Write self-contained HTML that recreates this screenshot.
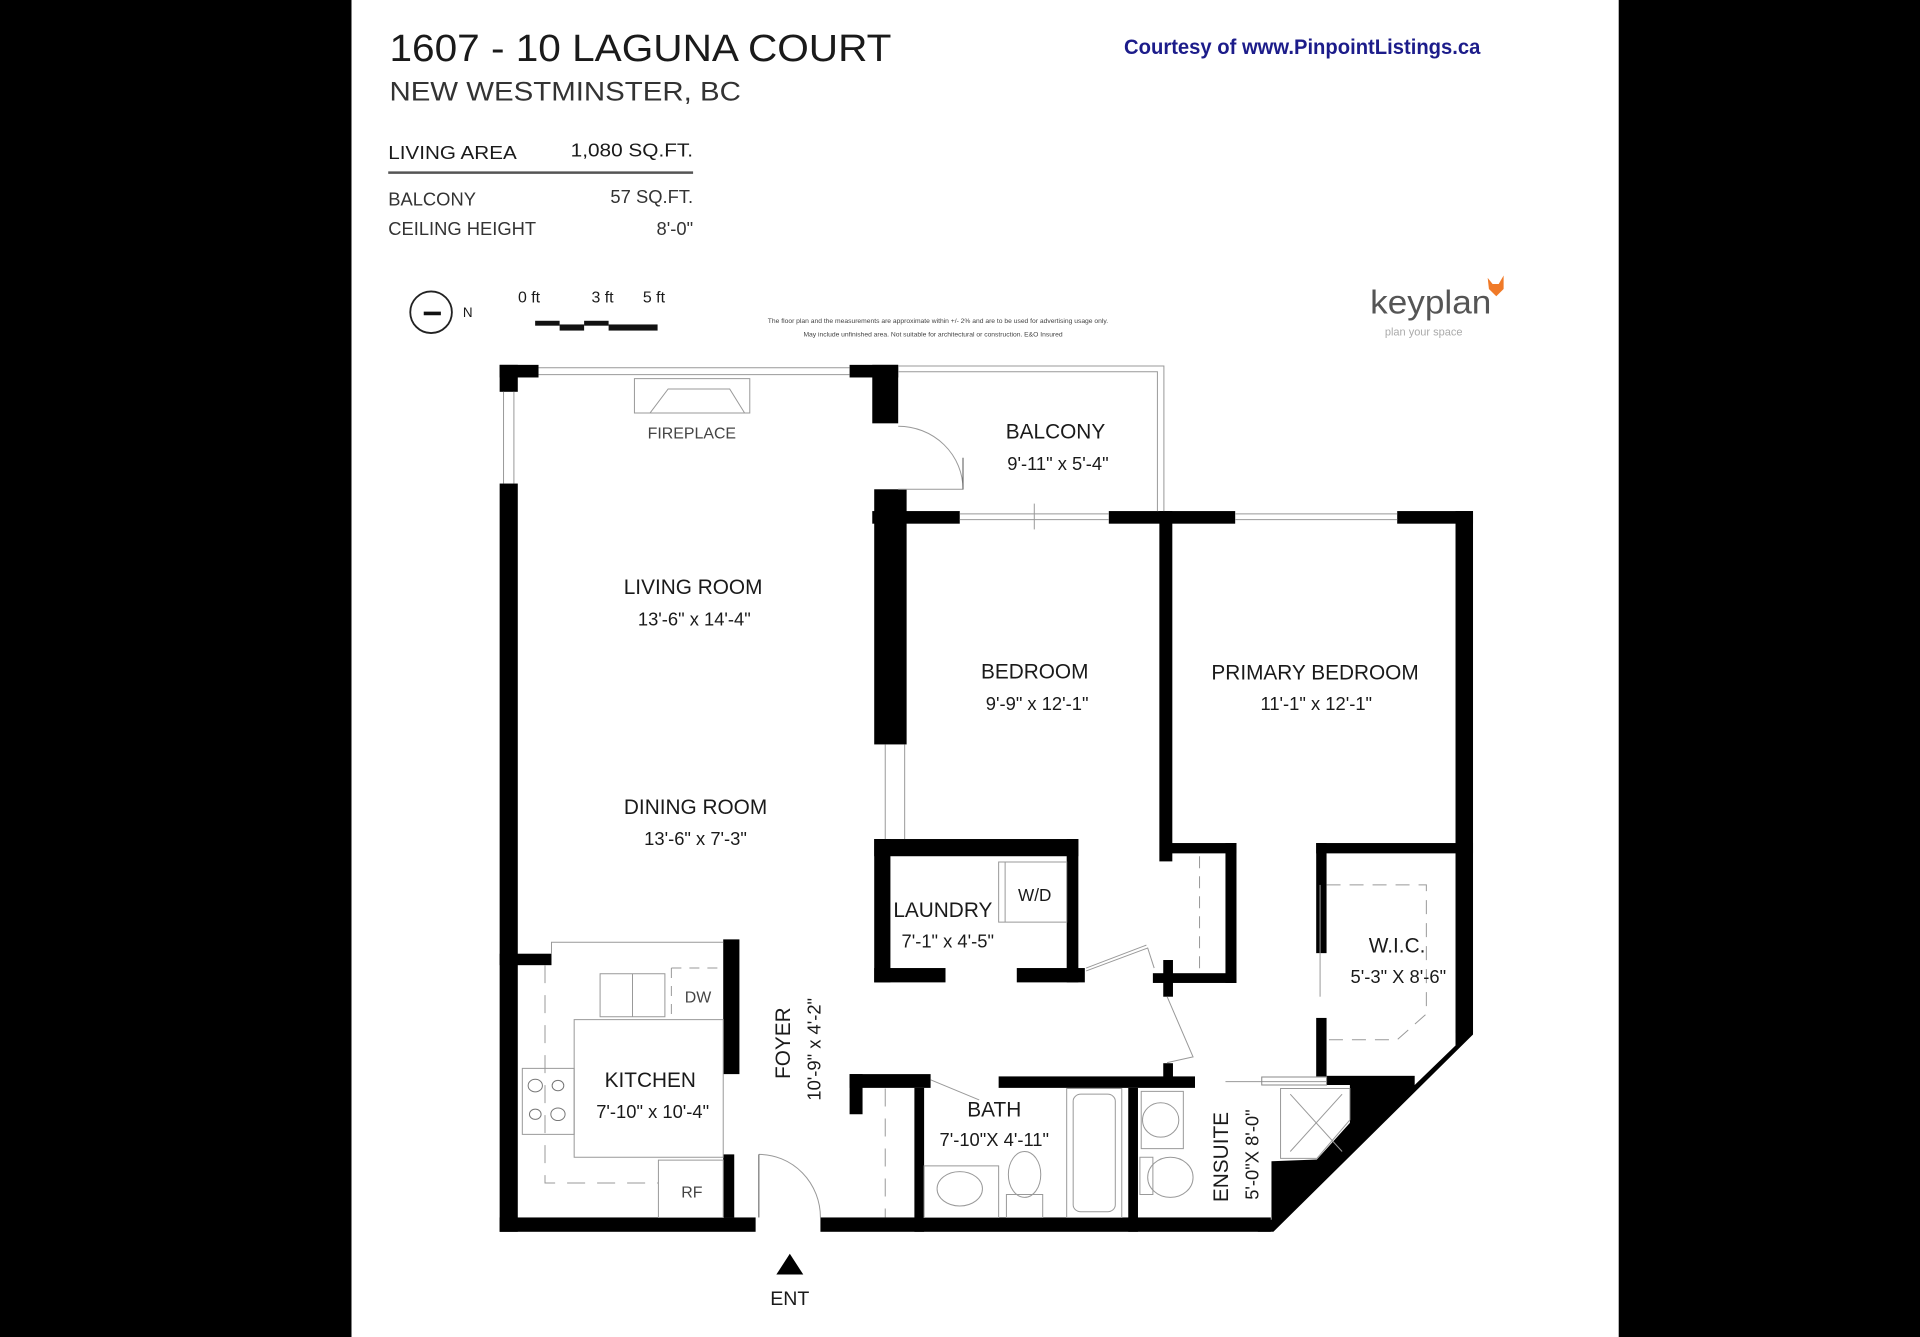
<!DOCTYPE html>
<html><head><meta charset="utf-8"><style>
html,body{margin:0;padding:0;background:#000;}
svg{display:block;}
text{font-family:"Liberation Sans",sans-serif;fill:#1a1a1a;}
</style></head><body>
<svg width="1920" height="1337" viewBox="0 0 1568 1092" xmlns="http://www.w3.org/2000/svg">
<rect x="0" y="0" width="1568" height="1092" fill="#000"/>
<rect x="287" y="0" width="1035" height="1092" fill="#fff"/>

<!-- header -->
<text x="318" y="50" font-size="31" textLength="410" lengthAdjust="spacingAndGlyphs">1607 - 10 LAGUNA COURT</text>
<text x="318" y="82" font-size="22" fill="#333" style="fill:#333" textLength="287" lengthAdjust="spacingAndGlyphs">NEW WESTMINSTER, BC</text>
<text x="918" y="44" font-size="17" font-weight="bold" style="fill:#1c1c8a" textLength="291" lengthAdjust="spacingAndGlyphs">Courtesy of www.PinpointListings.ca</text>

<text x="317" y="130" font-size="15" textLength="105" lengthAdjust="spacingAndGlyphs">LIVING AREA</text>
<text x="566" y="128" font-size="15" text-anchor="end" textLength="100" lengthAdjust="spacingAndGlyphs">1,080 SQ.FT.</text>
<line x1="317" y1="141" x2="566" y2="141" stroke="#555" stroke-width="2"/>
<text x="317" y="168" font-size="15" style="fill:#333">BALCONY</text>
<text x="566" y="166" font-size="15" text-anchor="end" style="fill:#333">57 SQ.FT.</text>
<text x="317" y="192" font-size="15" style="fill:#333">CEILING HEIGHT</text>
<text x="566" y="192" font-size="15" text-anchor="end" style="fill:#333">8'-0"</text>

<!-- compass & scale -->
<circle cx="352" cy="255" r="17" fill="none" stroke="#222" stroke-width="1.5"/>
<line x1="346" y1="256" x2="360" y2="256" stroke="#111" stroke-width="3"/>
<text x="378" y="259" font-size="11">N</text>
<text x="423" y="247" font-size="13">0 ft</text>
<text x="483" y="247" font-size="13">3 ft</text>
<text x="525" y="247" font-size="13">5 ft</text>
<rect x="437" y="262" width="20" height="4" fill="#111"/>
<rect x="457" y="265" width="20" height="5" fill="#111"/>
<rect x="477" y="262" width="20" height="4" fill="#111"/>
<rect x="497" y="265" width="40" height="5" fill="#111"/>
<text x="766" y="264" font-size="5.5" text-anchor="middle" style="fill:#444">The floor plan and the measurements are approximate within +/- 2% and are to be used for advertising usage only.</text>
<text x="762" y="275" font-size="5.5" text-anchor="middle" style="fill:#444">May include unfinished area. Not suitable for architectural or construction. E&amp;O Insured</text>

<!-- keyplan -->
<text x="1119" y="256" font-size="27" style="fill:#555" textLength="99" lengthAdjust="spacingAndGlyphs">keyplan</text>
<text x="1131" y="274" font-size="9" style="fill:#aaa">plan your space</text>
<path d="M1215,227 L1219,232 L1224,232 L1228,225 L1228,236 L1222,242 L1216,236 Z" fill="#f07a28"/>

<!-- floor plan walls in zoom coordinates -->
<g transform="translate(408,298) scale(0.5293,0.4683) translate(-30,-28)">
 <g fill="#000">
  <rect x="30" y="28" width="60" height="22"/>
  <rect x="30" y="28" width="28" height="47"/>
  <rect x="30" y="235" width="28" height="1305"/>
  <rect x="570" y="28" width="75" height="22"/>
  <rect x="605" y="28" width="40" height="102"/>
  <rect x="608" y="245" width="50" height="445"/>
  <rect x="605" y="283" width="135" height="22"/>
  <rect x="970" y="283" width="195" height="22"/>
  <rect x="1415" y="283" width="117" height="22"/>
  <rect x="1505" y="283" width="27" height="910"/>
  <rect x="1048" y="283" width="20" height="611"/>
  <!-- laundry -->
  <rect x="608" y="855" width="315" height="30"/>
  <rect x="608" y="855" width="25" height="250"/>
  <rect x="905" y="855" width="18" height="250"/>
  <rect x="608" y="1080" width="110" height="25"/>
  <rect x="828" y="1080" width="105" height="25"/>
  <!-- bedroom closet -->
  <rect x="1054" y="862" width="113" height="18"/>
  <rect x="1150" y="862" width="17" height="244"/>
  <rect x="1038" y="1089" width="129" height="17"/>
  <rect x="1054" y="1066" width="15" height="64"/>
  <rect x="1054" y="1246" width="15" height="25"/>
  <!-- WIC -->
  <rect x="1290" y="862" width="242" height="18"/>
  <rect x="1290" y="862" width="16" height="192"/>
  <rect x="1290" y="1167" width="16" height="102"/>
  <rect x="1306" y="1268" width="136" height="16"/>
  <polygon points="1505,1188 1532,1188 1532,1196 1224,1540 1200,1540 1200,1519 1221,1519 1221,1417 1291,1414 1342,1350 1342,1284 1442,1284 1505,1215"/>
  <!-- bath row -->
  <rect x="570" y="1265" width="125" height="24"/>
  <rect x="570" y="1265" width="20" height="70"/>
  <rect x="800" y="1269" width="303" height="20"/>
  <rect x="670" y="1289" width="15" height="251"/>
  <rect x="1000" y="1289" width="15" height="251"/>
  <!-- kitchen -->
  <rect x="375" y="1030" width="25" height="235"/>
  <rect x="375" y="1405" width="17" height="110"/>
  <rect x="30" y="1055" width="80" height="20"/>
  <!-- bottom -->
  <rect x="30" y="1515" width="395" height="25"/>
  <rect x="525" y="1515" width="695" height="25"/>
 </g>
 <g fill="none" stroke="#999" stroke-width="1" vector-effect="non-scaling-stroke">
  <line x1="90" y1="33" x2="570" y2="33" vector-effect="non-scaling-stroke"/>
  <line x1="90" y1="45" x2="570" y2="45" vector-effect="non-scaling-stroke"/>
  <line x1="36" y1="75" x2="36" y2="235" vector-effect="non-scaling-stroke"/>
  <line x1="52" y1="75" x2="52" y2="235" vector-effect="non-scaling-stroke"/>
  <polyline points="645,30 1055,30 1055,283" vector-effect="non-scaling-stroke"/>
  <polyline points="645,40 1045,40 1045,283" vector-effect="non-scaling-stroke"/>
  <line x1="740" y1="288" x2="970" y2="288" vector-effect="non-scaling-stroke"/>
  <line x1="740" y1="298" x2="970" y2="298" vector-effect="non-scaling-stroke"/>
  <line x1="855" y1="270" x2="855" y2="315" vector-effect="non-scaling-stroke"/>
  <line x1="1165" y1="288" x2="1415" y2="288" vector-effect="non-scaling-stroke"/>
  <line x1="1165" y1="298" x2="1415" y2="298" vector-effect="non-scaling-stroke"/>
  <line x1="625" y1="690" x2="625" y2="855" vector-effect="non-scaling-stroke"/>
  <line x1="655" y1="690" x2="655" y2="855" vector-effect="non-scaling-stroke"/>
  <!-- fireplace -->
  <rect x="238" y="52" width="178" height="60" vector-effect="non-scaling-stroke"/>
  <polyline points="262,112 290,70 385,70 408,112" vector-effect="non-scaling-stroke"/>
  <!-- balcony door -->
  <path d="M645,135 A100,110 0 0 1 745,245 L645,245" vector-effect="non-scaling-stroke"/>
  <line x1="745" y1="190" x2="745" y2="245" stroke="#555" vector-effect="non-scaling-stroke"/>
  <!-- laundry W/D -->
  <rect x="800" y="895" width="105" height="105" vector-effect="non-scaling-stroke"/>
  <line x1="810" y1="895" x2="810" y2="1000" vector-effect="non-scaling-stroke"/>
  <polyline points="935,1085 1030,1045 1040,1080" vector-effect="non-scaling-stroke"/>
  <polyline points="935,1080 1028,1040" vector-effect="non-scaling-stroke"/>
  <polyline points="1060,1130 1100,1235 1060,1245" vector-effect="non-scaling-stroke"/>
  <line x1="1110" y1="885" x2="1110" y2="1085" stroke-dasharray="12,8" vector-effect="non-scaling-stroke"/>
  <!-- WIC dashed -->
  <polyline points="1306,935 1460,935 1460,1160 1415,1205 1306,1205" stroke-dasharray="14,9" vector-effect="non-scaling-stroke"/>
  <line x1="1296" y1="935" x2="1296" y2="1130" vector-effect="non-scaling-stroke"/>
  <line x1="1150" y1="1278" x2="1306" y2="1278" vector-effect="non-scaling-stroke"/>
  <!-- kitchen -->
  <polyline points="110,1055 110,1035 375,1035" vector-effect="non-scaling-stroke"/>
  <rect x="145" y="1170" width="230" height="240" vector-effect="non-scaling-stroke"/>
  <rect x="185" y="1090" width="100" height="75" vector-effect="non-scaling-stroke"/>
  <line x1="235" y1="1090" x2="235" y2="1165" vector-effect="non-scaling-stroke"/>
  <line x1="295" y1="1080" x2="295" y2="1165" stroke-dasharray="10,8" vector-effect="non-scaling-stroke"/>
  <line x1="295" y1="1080" x2="370" y2="1080" stroke-dasharray="10,8" vector-effect="non-scaling-stroke"/>
  <rect x="65" y="1255" width="80" height="115" vector-effect="non-scaling-stroke"/>
  <polyline points="100,1075 100,1455 275,1455" stroke-dasharray="18,12" vector-effect="non-scaling-stroke"/>
  <rect x="275" y="1415" width="100" height="100" vector-effect="non-scaling-stroke"/>
  <!-- entry door -->
  <path d="M430,1405 A95,110 0 0 1 525,1515" vector-effect="non-scaling-stroke"/>
  <line x1="430" y1="1405" x2="430" y2="1515" stroke="#555" vector-effect="non-scaling-stroke"/>
  <line x1="625" y1="1290" x2="625" y2="1515" stroke-dasharray="18,12" vector-effect="non-scaling-stroke"/>
  <!-- bath -->
  <line x1="695" y1="1275" x2="770" y2="1310" vector-effect="non-scaling-stroke"/>
  <rect x="905" y="1290" width="85" height="225" vector-effect="non-scaling-stroke"/>
  <rect x="915" y="1300" width="65" height="205" rx="12" vector-effect="non-scaling-stroke"/>
  <rect x="685" y="1425" width="115" height="90" vector-effect="non-scaling-stroke"/>
  <ellipse cx="740" cy="1465" rx="35" ry="30" vector-effect="non-scaling-stroke"/>
  <ellipse cx="840" cy="1440" rx="25" ry="40" vector-effect="non-scaling-stroke"/>
  <rect x="812" y="1475" width="56" height="40" vector-effect="non-scaling-stroke"/>
  <!-- ensuite -->
  <rect x="1020" y="1295" width="65" height="100" vector-effect="non-scaling-stroke"/>
  <ellipse cx="1050" cy="1345" rx="28" ry="30" vector-effect="non-scaling-stroke"/>
  <ellipse cx="1065" cy="1445" rx="35" ry="35" vector-effect="non-scaling-stroke"/>
  <rect x="1018" y="1410" width="20" height="65" vector-effect="non-scaling-stroke"/>
  <polygon points="1235,1290 1342,1290 1342,1345 1291,1412 1235,1412" vector-effect="non-scaling-stroke"/>
  <line x1="1250" y1="1300" x2="1330" y2="1400" vector-effect="non-scaling-stroke"/>
  <line x1="1330" y1="1300" x2="1250" y2="1400" vector-effect="non-scaling-stroke"/>
 </g>
 <g fill="none" stroke="#888" stroke-width="1" vector-effect="non-scaling-stroke">
  <rect x="1206" y="1270" width="100" height="14" vector-effect="non-scaling-stroke"/>
 </g>
 <!-- stove burners -->
 <g fill="none" stroke="#777">
  <circle cx="85" cy="1285" r="11" vector-effect="non-scaling-stroke"/>
  <circle cx="120" cy="1285" r="9" vector-effect="non-scaling-stroke"/>
  <circle cx="85" cy="1335" r="9" vector-effect="non-scaling-stroke"/>
  <circle cx="120" cy="1335" r="11" vector-effect="non-scaling-stroke"/>
 </g>
</g>

<!-- room labels -->
<g font-size="17" text-anchor="middle">
 <text x="565" y="358" font-size="13" style="fill:#444">FIREPLACE</text>
 <text x="862" y="358">BALCONY</text>
 <text x="864" y="384" font-size="15">9'-11"  x  5'-4"</text>
 <text x="566" y="485">LIVING ROOM</text>
 <text x="567" y="511" font-size="15">13'-6"  x  14'-4"</text>
 <text x="845" y="554">BEDROOM</text>
 <text x="847" y="580" font-size="15">9'-9"  x  12'-1"</text>
 <text x="1074" y="555">PRIMARY BEDROOM</text>
 <text x="1075" y="580" font-size="15">11'-1"  x  12'-1"</text>
 <text x="568" y="665">DINING ROOM</text>
 <text x="568" y="690" font-size="15">13'-6"  x  7'-3"</text>
 <text x="770" y="749">LAUNDRY</text>
 <text x="774" y="774" font-size="15">7'-1"  x  4'-5"</text>
 <text x="845" y="736" font-size="14">W/D</text>
 <text x="1141" y="778">W.I.C.</text>
 <text x="1142" y="803" font-size="15">5'-3" X 8'-6"</text>
 <text x="531" y="888">KITCHEN</text>
 <text x="533" y="913" font-size="15">7'-10" x 10'-4"</text>
 <text x="570" y="819" font-size="13" style="fill:#444">DW</text>
 <text x="565" y="978" font-size="13" style="fill:#444">RF</text>
 <text x="812" y="912">BATH</text>
 <text x="812" y="936" font-size="15">7'-10"X 4'-11"</text>
 <text transform="translate(645,852) rotate(-90)">FOYER</text>
 <text transform="translate(670,857) rotate(-90)" font-size="15">10'-9"  x  4'-2"</text>
 <text transform="translate(1003,945) rotate(-90)">ENSUITE</text>
 <text transform="translate(1028,943) rotate(-90)" font-size="15">5'-0"X 8'-0"</text>
 <text x="645" y="1066" font-size="16">ENT</text>
</g>
<polygon points="634,1041 656,1041 645,1024" fill="#000"/>
</svg>
</body></html>
